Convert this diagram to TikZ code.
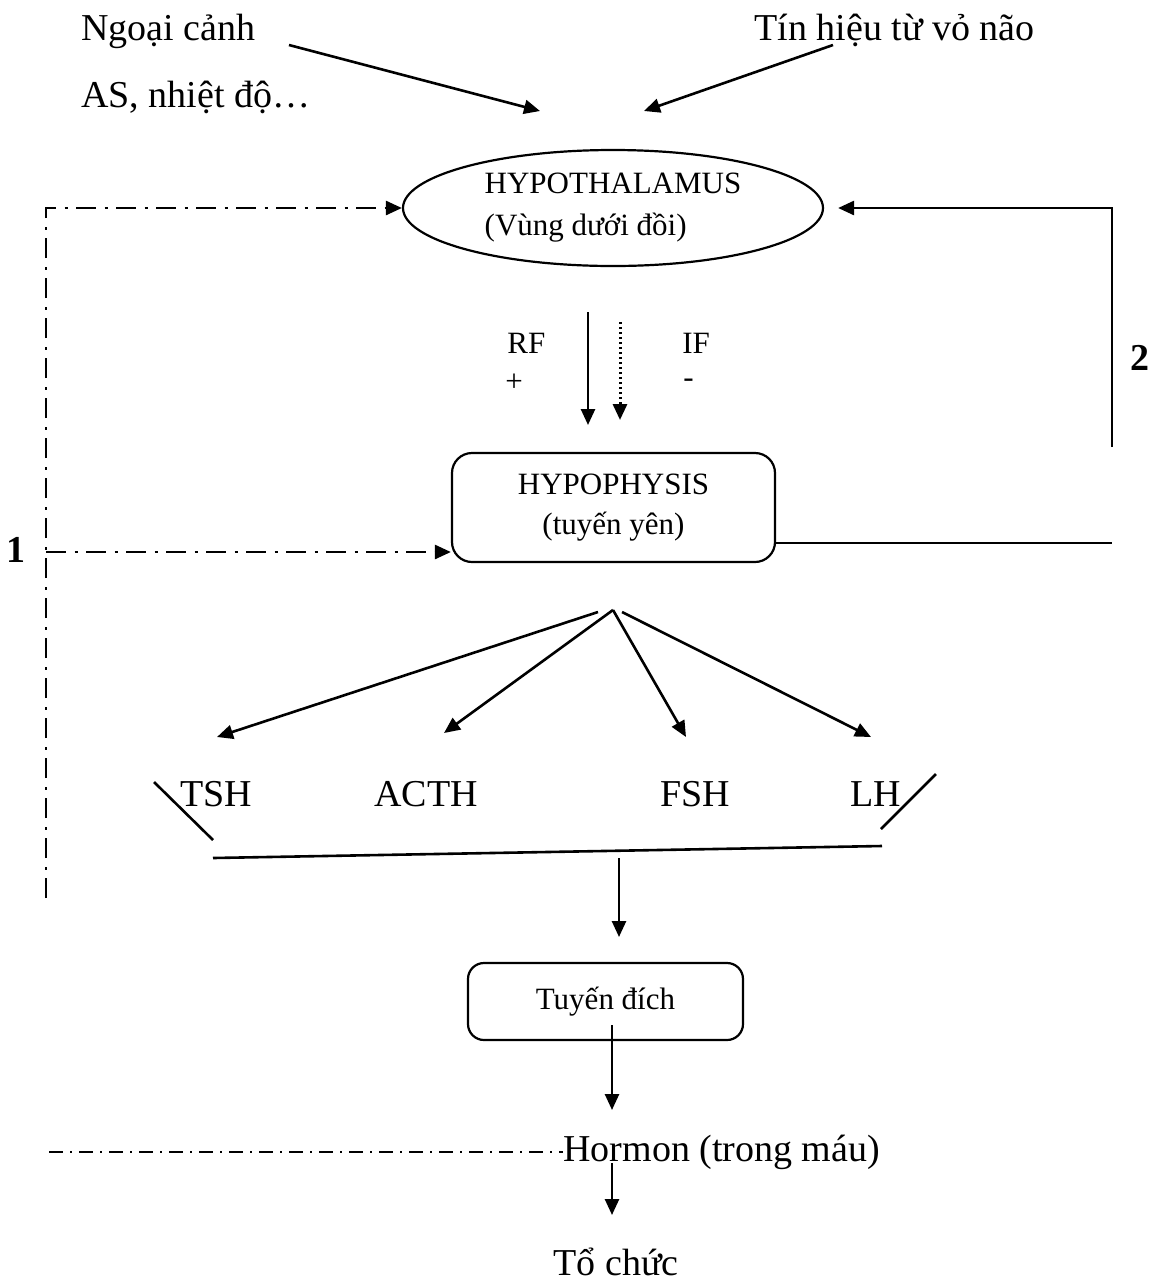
\documentclass[tikz,border=0pt]{standalone}
\usepackage{fontspec}
\setmainfont{Liberation Serif}
\usetikzlibrary{arrows.meta,shapes.geometric}
\begin{document}
\begin{tikzpicture}[x=0.5pt,y=-0.5pt,
  big/.style={font=\fontsize{19}{23}\selectfont,inner sep=0pt},
  small/.style={font=\fontsize{15.5}{21}\selectfont,inner sep=0pt},
  bignum/.style={font=\bfseries\fontsize{19}{23}\selectfont,inner sep=0pt},
  ln/.style={line width=1.3pt},
  tip/.style={-{Triangle[length=8pt,width=7pt]}},
  arr/.style={ln,tip},
  dd/.style={line width=1.3pt,dash pattern=on 10pt off 4.25pt on 1.5pt off 4.25pt},
  ddb/.style={line width=1.2pt,dash pattern=on 7pt off 3.5pt on 1pt off 3.5pt},
  dotl/.style={line width=1.5pt,dash pattern=on 1.2pt off 1.3pt},
  boxr/.style={draw,line width=1.1pt,rounded corners=10pt,inner sep=0pt}
]
\useasboundingbox (0,0) rectangle (1153,1281);

% top texts
\node[big,anchor=base west] (ngoai) at (81,40) {Ngoại cảnh};
\node[big,anchor=base west] (as) at (81,107) {AS, nhiệt độ…};
\node[big,anchor=base east] (tin) at (1035,40) {Tín hiệu từ vỏ não};

\coordinate (a1s) at (289,45); \coordinate (a1e) at (540,111);
\coordinate (a2s) at (833,45); \coordinate (a2e) at (644,111);
\draw[arr] (a1s) -- (a1e);
\draw[arr] (a2s) -- (a2e);

% hypothalamus
\node[draw,ellipse,line width=1.1pt,minimum width=210pt,minimum height=58pt,inner sep=0pt,small,align=left] (hth) at (613,208) {HYPOTHALAMUS\\(Vùng dưới đồi)};

% RF / IF
\node[small,anchor=base west] (rf) at (507,353) {RF};
\node[small,anchor=west] (plus) at (505,383) {+};
\node[small,anchor=base west] (iff) at (682,353) {IF};
\node[small,anchor=west] (minus) at (683,383) {-};
\coordinate (rfs) at (588,312); \coordinate (rfe) at (588,425);
\coordinate (ifs) at (620,322); \coordinate (ife) at (620,420);
\draw[arr] (rfs) -- (rfe);
\draw[dotl,tip] (ifs) -- (ife);

% hypophysis
\node[boxr,minimum width=161.5pt,minimum height=54.5pt,small,font=\fontsize{15.5}{20}\selectfont,align=center] (hyp) at (613.5,507.5) {HYPOPHYSIS\\(tuyến yên)};

% left feedback (1)
\coordinate (lt) at (46,208); \coordinate (lm) at (46,552); \coordinate (lb) at (46,898);
\draw[dd,tip] (lb) -- (lt) -- (hth.west);
\draw[dd,tip] (lm) -- (lm -| hyp.west);
\node[bignum] (one) at (16,550) {1};

% right feedback (2)
\coordinate (rb) at (1112,543); \coordinate (rm) at (1112,447); \coordinate (rt) at (1112,208);
\draw[ln] (rb -| hyp.east) -- (rb);
\draw[arr,shorten >=7pt] (rm) -- (rt) -- (hth.east);
\node[bignum] (two) at (1140,358) {2};

% fan arrows
\coordinate (f0) at (613,610); \coordinate (f1s) at (598,612); \coordinate (f4s) at (622,612);
\coordinate (t1) at (217,737); \coordinate (t2) at (444,733);
\coordinate (t3) at (686,737); \coordinate (t4) at (871,737);
\draw[arr] (f1s) -- (t1);
\draw[arr] (f0) -- (t2);
\draw[arr] (f0) -- (t3);
\draw[arr] (f4s) -- (t4);

% hormones
\node[big,anchor=base west] (tsh) at (180,806) {TSH};
\node[big,anchor=base west] (acth) at (374,806) {ACTH};
\node[big,anchor=base west] (fsh) at (660,806) {FSH};
\node[big,anchor=base west] (lh) at (850,806) {LH};

\coordinate (s1a) at (154,782); \coordinate (s1b) at (213,840);
\coordinate (s2a) at (881,829); \coordinate (s2b) at (936,774);
\coordinate (ba) at (213,858); \coordinate (bb) at (882,846);
\draw[ln] (s1a) -- (s1b);
\draw[ln] (s2a) -- (s2b);
\draw[ln] (ba) -- (bb);
\coordinate (d1) at (619,858); \coordinate (d2) at (619,937);
\draw[arr] (d1) -- (d2);

% target gland
\node[boxr,rounded corners=8pt,minimum width=137.5pt,minimum height=38.5pt,small] (tdich) at (605.5,1001.5) {Tuyến đích};
\coordinate (td1) at (612,1025); \coordinate (td2) at (612,1110);
\draw[arr] (td1) -- (td2);

% hormone in blood
\node[big,anchor=west] (horm) at (563,1152) {Hormon (trong máu)};
\coordinate (hl) at (49,1152);
\draw[ddb] (hl) -- (horm.west);
\coordinate (h1) at (612,1163); \coordinate (h2) at (612,1215);
\draw[arr] (h1) -- (h2);

\node[big,anchor=base] (toc) at (616,1275) {Tổ chức};
\end{tikzpicture}
\end{document}
